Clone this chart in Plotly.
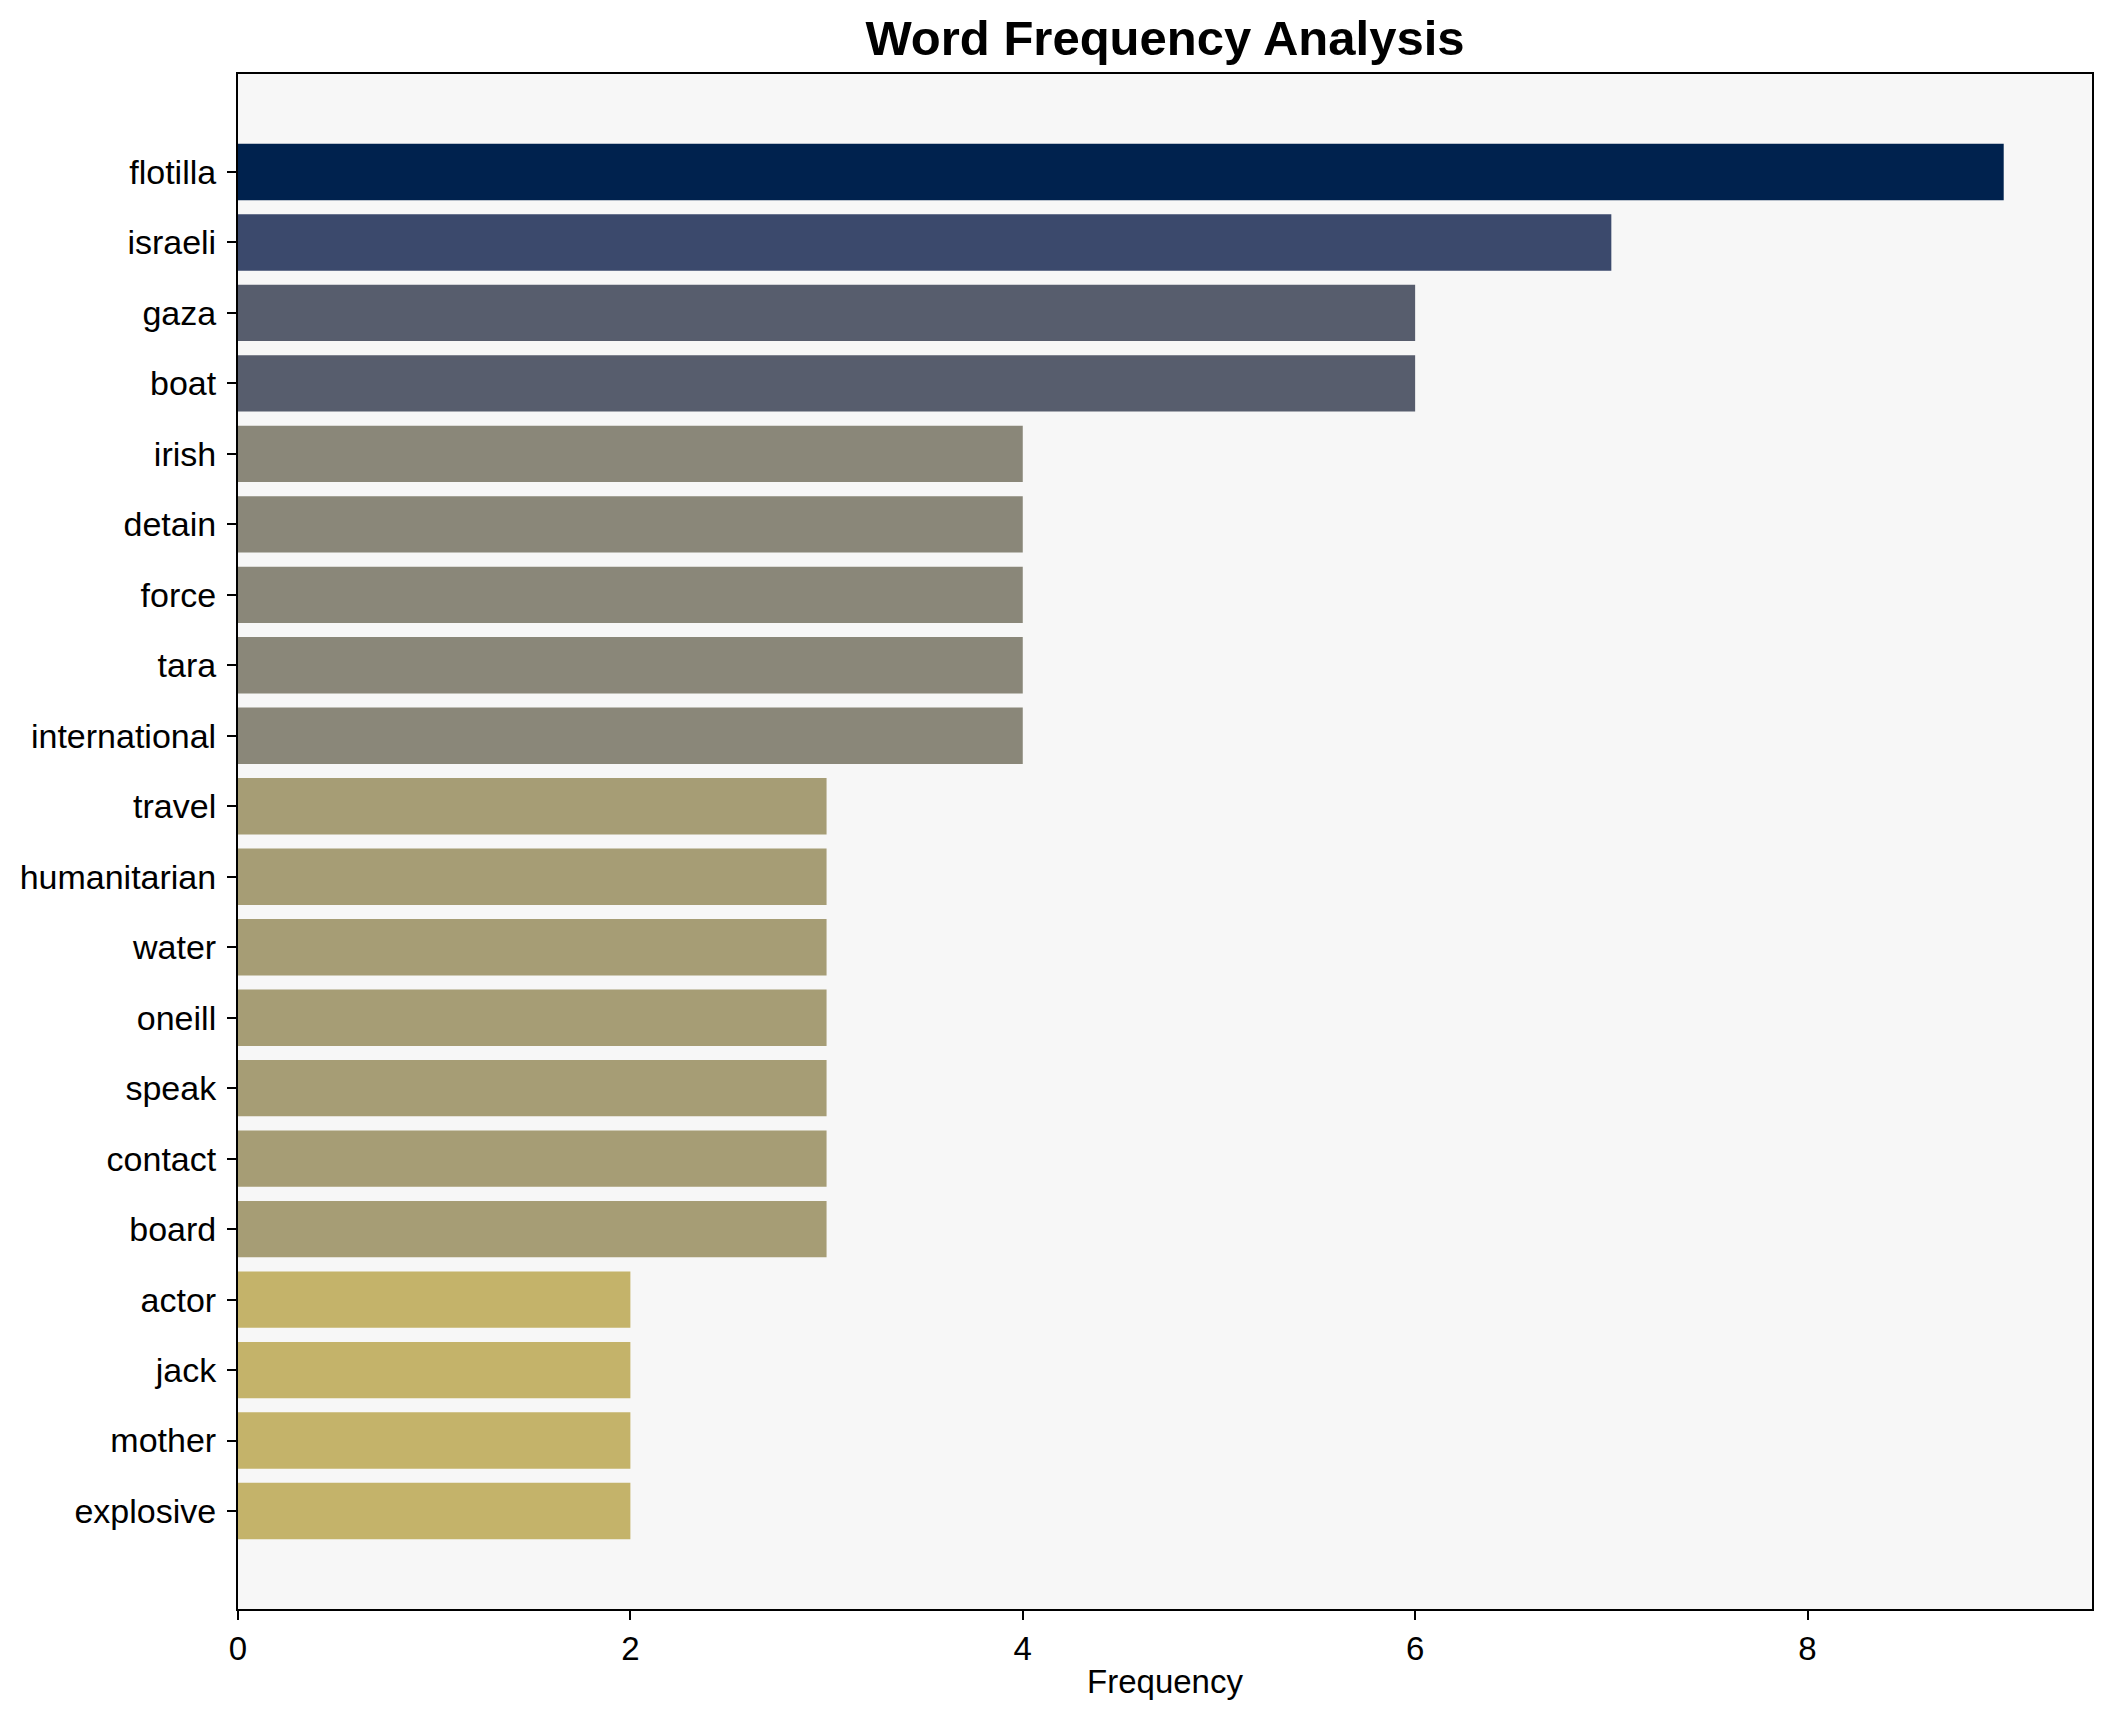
import plotly.graph_objects as go

words = ["flotilla", "israeli", "gaza", "boat", "irish", "detain", "force", "tara",
         "international", "travel", "humanitarian", "water", "oneill", "speak",
         "contact", "board", "actor", "jack", "mother", "explosive"]
freqs = [9, 7, 6, 6, 4, 4, 4, 4, 4, 3, 3, 3, 3, 3, 3, 3, 2, 2, 2, 2]
color_by_freq = {9: "#00224e", 7: "#3b496c", 6: "#575d6d", 4: "#8a8779",
                 3: "#a69d75", 2: "#c4b36a"}

colors = [color_by_freq[f] for f in freqs]
n = len(words)
FONT = "Liberation Sans, Arial, sans-serif"

fig = go.Figure(go.Bar(
    x=freqs, y=words, orientation="h", marker=dict(color=colors, line=dict(width=0)),
    width=0.8,
))

fig.update_layout(
    width=2112, height=1722,
    margin=dict(l=230, r=28, t=66, b=121),
    paper_bgcolor="white", plot_bgcolor="#f7f7f7",
    font=dict(family=FONT, size=33, color="black"),
    title=dict(text="<b>Word Frequency Analysis</b>", x=0.5, xanchor="center", xref="paper",
               y=1 - 30 / 1722, yanchor="middle", yref="container",
               font=dict(family=FONT, size=49, color="black")),
    showlegend=False,
    bargap=0.2,
)
fig.update_xaxes(
    range=[0, 9.45], tickvals=[0, 2, 4, 6, 8], ticks="outside", ticklen=9, tickwidth=1.5,
    tickcolor="black", showgrid=False, zeroline=False,
    showline=True, linecolor="black", linewidth=2, mirror=True,
    title=dict(text="Frequency", font=dict(size=33), standoff=4),
    tickfont=dict(size=33), automargin=False,
)
fig.update_yaxes(
    type="category", categoryorder="array", categoryarray=words,
    range=[n - 1 + 1.39, -1.39], ticks="outside", ticklen=9, tickwidth=1.5,
    tickcolor="black", showgrid=False, zeroline=False,
    showline=True, linecolor="black", linewidth=2, mirror=True,
    tickfont=dict(size=34), ticklabelstandoff=4, automargin=False,
)

fig.write_html("out.html")
